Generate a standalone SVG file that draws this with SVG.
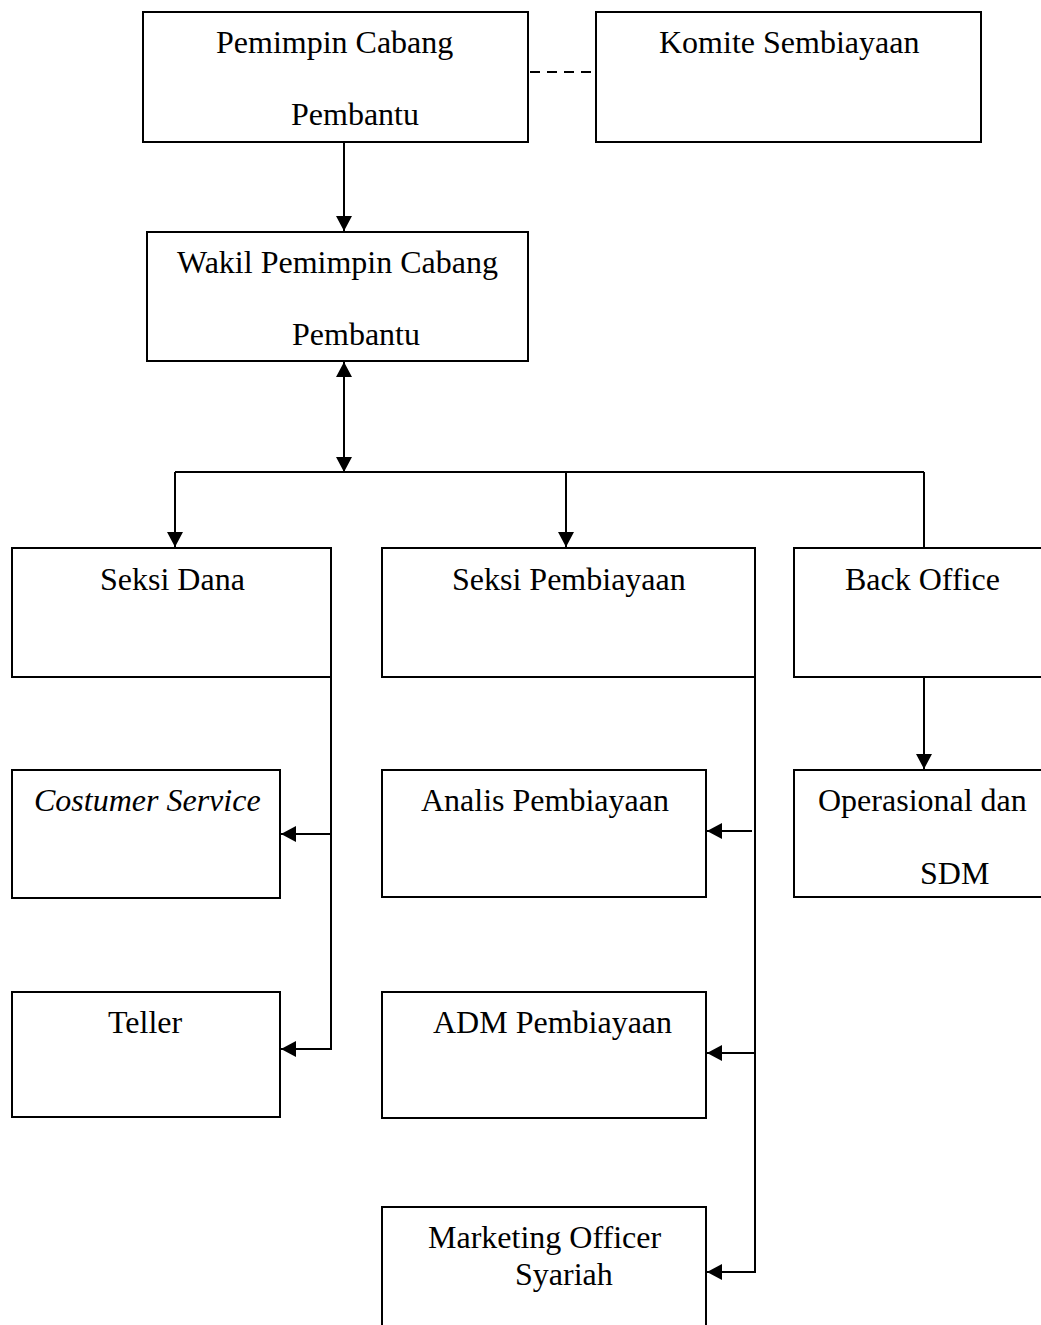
<svg xmlns="http://www.w3.org/2000/svg" width="1041" height="1325" viewBox="0 0 1041 1325">
<style>
.box{fill:#fff;stroke:#000;stroke-width:2}
.t{font-family:"Liberation Serif","Times New Roman",serif;font-size:32px;fill:#000}
.c{fill:none;stroke:#000;stroke-width:2}
</style>
<defs>
<marker id="ah" markerUnits="userSpaceOnUse" markerWidth="16" markerHeight="16" refX="15" refY="8" orient="auto-start-reverse">
<path d="M0,0 L15,8 L0,16 Z" fill="#000"/>
</marker>
</defs>
<rect width="1041" height="1325" fill="#fff"/>
<g id="connectors">
<line class="c" x1="530" y1="72" x2="596" y2="72" stroke-dasharray="10,7" stroke-width="2.5"/>
<line class="c" x1="344" y1="142" x2="344" y2="231" marker-end="url(#ah)"/>
<line class="c" x1="344" y1="362" x2="344" y2="472" marker-start="url(#ah)" marker-end="url(#ah)"/>
<line class="c" x1="175" y1="472" x2="924" y2="472"/>
<line class="c" x1="175" y1="472" x2="175" y2="547" marker-end="url(#ah)"/>
<line class="c" x1="566" y1="472" x2="566" y2="547" marker-end="url(#ah)"/>
<line class="c" x1="924" y1="472" x2="924" y2="548"/>
<line class="c" x1="924" y1="677" x2="924" y2="769" marker-end="url(#ah)"/>
<polyline class="c" points="331,677 331,1049 281,1049" marker-end="url(#ah)"/>
<line class="c" x1="331" y1="834" x2="281" y2="834" marker-end="url(#ah)"/>
<polyline class="c" points="755,677 755,1272 707,1272" marker-end="url(#ah)"/>
<line class="c" x1="752" y1="831" x2="707" y2="831" marker-end="url(#ah)"/>
<line class="c" x1="755" y1="1053" x2="707" y2="1053" marker-end="url(#ah)"/>
</g>
<g id="pemimpin"><rect class="box" x="143" y="12" width="385" height="130"/><text class="t" x="216" y="53">Pemimpin Cabang</text><text class="t" x="291" y="125">Pembantu</text></g>
<g id="komite"><rect class="box" x="596" y="12" width="385" height="130"/><text class="t" x="659" y="53">Komite Sembiayaan</text></g>
<g id="wakil"><rect class="box" x="147" y="232" width="381" height="129"/><text class="t" x="177" y="273">Wakil Pemimpin Cabang</text><text class="t" x="292" y="345">Pembantu</text></g>
<g id="seksi-dana"><rect class="box" x="12" y="548" width="319" height="129"/><text class="t" x="100" y="590">Seksi Dana</text></g>
<g id="seksi-pembiayaan"><rect class="box" x="382" y="548" width="373" height="129"/><text class="t" x="452" y="590">Seksi Pembiayaan</text></g>
<g id="back-office"><rect class="box" x="794" y="548" width="260" height="129"/><text class="t" x="845" y="590">Back Office</text></g>
<g id="costumer-service"><rect class="box" x="12" y="770" width="268" height="128"/><text class="t" x="34" y="811" font-style="italic">Costumer Service</text></g>
<g id="analis"><rect class="box" x="382" y="770" width="324" height="127"/><text class="t" x="421" y="811">Analis Pembiayaan</text></g>
<g id="operasional"><rect class="box" x="794" y="770" width="260" height="127"/><text class="t" x="818" y="811">Operasional dan</text><text class="t" x="920" y="884">SDM</text></g>
<g id="teller"><rect class="box" x="12" y="992" width="268" height="125"/><text class="t" x="108" y="1033">Teller</text></g>
<g id="adm"><rect class="box" x="382" y="992" width="324" height="126"/><text class="t" x="433" y="1033">ADM Pembiayaan</text></g>
<g id="marketing"><rect class="box" x="382" y="1207" width="324" height="130"/><text class="t" x="428" y="1248">Marketing Officer</text><text class="t" x="515" y="1285">Syariah</text></g>
</svg>
